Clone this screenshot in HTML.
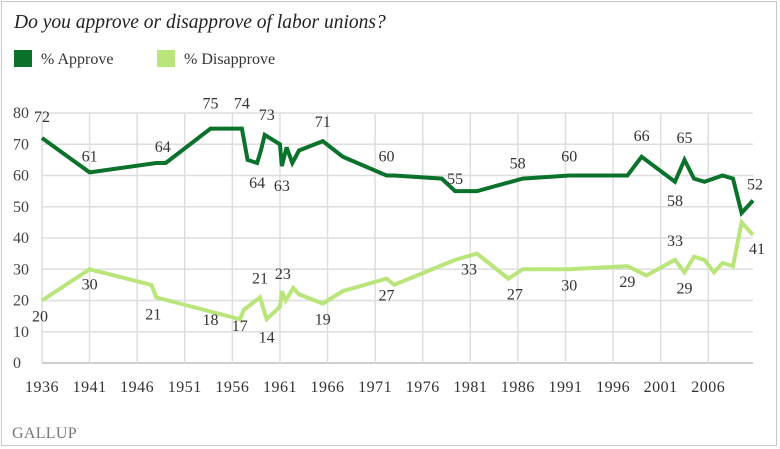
<!DOCTYPE html>
<html><head><meta charset="utf-8">
<style>
body{margin:0;background:#fff;}
svg{display:block;font-family:"Liberation Serif",serif;}
</style></head>
<body>
<svg id="chart" width="780" height="449">
<rect x="1.5" y="1.5" width="775" height="444" fill="#fff" stroke="#c8c8c8"/>
<text x="14" y="28" font-size="19.5" font-style="italic" fill="#222">Do you approve or disapprove of labor unions?</text>
<g>
<rect x="14" y="50" width="18" height="17" fill="#0b722b"/>
<text x="41" y="64" font-size="16" fill="#333">% Approve</text>
<rect x="157" y="50" width="18" height="17" fill="#b9e57a"/>
<text x="184" y="64" font-size="16" fill="#333">% Disapprove</text>
</g>
<g id="grid"></g><g id="axes"></g><g id="lines"></g><g id="labels"></g>
<text x="12" y="438" font-size="16" fill="#777" letter-spacing="0.3">GALLUP<tspan font-size="7" dy="-7">·</tspan></text>
</svg>
<script>
const yTicks=[0,10,20,30,40,50,60,70,80];
const xTicks=[1936,1941,1946,1951,1956,1961,1966,1971,1976,1981,1986,1991,1996,2001,2006];
const approveYears=[1936,1941,1948,1949,1953.7,1957,1957.6,1958.6,1959,1959.4,1961,1961.2,1961.7,1962.3,1963,1965.5,1967.6,1972.2,1973,1978,1979.4,1981.7,1986.5,1991.4,1997.5,1999,2002.5,2003.5,2004.5,2005.6,2007.5,2008.6,2009.5,2010.7];
const approveValues=[72,61,64,64,75,75,65,64,68,73,70,63,69,64,68,71,66,60,60,59,55,55,59,60,60,66,58,65,59,58,60,59,48,52];
const disYears=[1936,1941,1947.5,1948,1956.8,1957.2,1958.9,1959.6,1961,1961.2,1961.6,1962.4,1963,1965.5,1967.6,1972.2,1973,1979.4,1981.7,1985,1986.5,1991.4,1997.5,1999.5,2002.5,2003.5,2004.5,2005.6,2006.6,2007.5,2008.6,2009.5,2010.7];
const disValues=[20,30,25,21,14,17,21,14,18,23,20,24,22,19,23,27,25,33,35,27,30,30,31,28,33,29,34,33,29,32,31,45,41];
const approveLabelYears=[1936,1941,1949,1953.7,1957,1959.4,1958.6,1961.2,1965.5,1972.2,1979.4,1986.5,1991.4,1999,2002.5,2003.5,2010.7];
const approveLabelTexts=["72","61","64","75","74","73","64","63","71","60","55","58","60","66","58","65","52"];
const approveLabelOff=[[0,-16],[0,-11],[-3,-11],[0,-20],[0,-20],[2,-15],[0,25],[0,25],[0,-14],[0,-14],[0,-7],[-5,-10],[0,-14],[0,-16],[0,24],[0,-17],[2,-11]];
const disLabelYears=[1936,1941,1948,1953.7,1957.2,1959.6,1958.9,1961.2,1965.5,1972.2,1981.7,1986,1991.4,1997.5,2003.5,2002.5,2010.7];
const disLabelTexts=["20","30","21","18","17","14","21","23","19","27","33","27","30","29","29","33","41"];
const disLabelOff=[[-2,21],[0,20],[-3,22],[0,18],[-4,21],[0,23],[0,-14],[1,-12],[0,21],[0,22],[-8,21],[-3,21],[0,21],[0,21],[0,21],[0,-14],[4,19]];
const X0=42,X1=753,Y0=363,Y1=113;
const xs=y=>X0+(y-1936)*(X1-X0)/(2010.7-1936);
const ys=v=>Y0-(v/80)*(Y0-Y1);
const NS="http://www.w3.org/2000/svg";
function mk(tag,attrs,parent){const e=document.createElementNS(NS,tag);for(const k in attrs)e.setAttribute(k,attrs[k]);document.getElementById(parent).appendChild(e);return e;}
yTicks.forEach(v=>{
 const l=mk('line',{x1:X0,x2:X1,y1:ys(v),y2:ys(v),stroke:v===0?'#cfcfcf':'#dedede','stroke-width':v===0?2:1.5},'grid');
 
 
 const t=mk('text',{x:13,y:ys(v)+5,'font-size':16,fill:'#444'},'axes');t.textContent=v;
 
 
});
xTicks.forEach(y=>{
 const l=mk('line',{x1:xs(y),x2:xs(y),y1:Y1,y2:Y0,stroke:'#dedede','stroke-width':1.5},'grid');
 
 
 const t=mk('text',{x:xs(y),y:392,'font-size':16,fill:'#333','text-anchor':'middle','letter-spacing':0.5},'axes');t.textContent=y;
 
 
});
function series(years,vals,color,name){
 const p=mk('polyline',{points:years.map((y,i)=>xs(y)+','+ys(vals[i])).join(' '),fill:'none',stroke:color,'stroke-width':4,'stroke-linejoin':'miter','stroke-miterlimit':3},'lines');
 
 
}
series(disYears,disValues,'#b9e57a','disapprove-line');
series(approveYears,approveValues,'#0b722b','approve-line');
function labels(years,texts,offs,allY,allV,name){
 years.forEach((y,i)=>{
  let idx=allY.indexOf(y);let v=idx>=0?allV[idx]:+texts[i];
  const t=mk('text',{x:xs(y)+offs[i][0],y:ys(v)+offs[i][1],'font-size':16,fill:'#333','text-anchor':'middle'},'labels');
  t.textContent=texts[i];
  
  
 });
}
labels(approveLabelYears,approveLabelTexts,approveLabelOff,approveYears,approveValues,'approve-value-label');
labels(disLabelYears,disLabelTexts,disLabelOff,disYears,disValues,'disapprove-value-label');
</script>
</body></html>
